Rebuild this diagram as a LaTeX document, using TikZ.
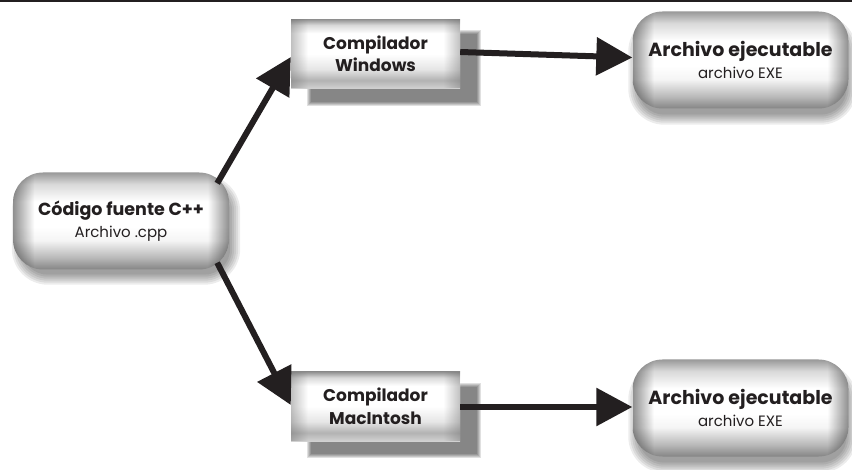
\documentclass[tikz,border=0pt]{standalone}
\usepackage{fontspec}
\setmainfont{Poppins}
\usetikzlibrary{arrows.meta,calc,backgrounds,fadings}
\definecolor{ink}{HTML}{231F20}
\pgfdeclareverticalshading{pillsh}{100bp}{color(0bp)=(black!48); color(25bp)=(black!48); color(31bp)=(black!28); color(40bp)=(black!4); color(47bp)=(white); color(60bp)=(white); color(69bp)=(black!15); color(75bp)=(black!40); color(100bp)=(black!40)}
\pgfdeclareverticalshading{boxsh}{100bp}{color(0bp)=(black!18); color(25bp)=(black!18); color(28bp)=(black!24); color(31bp)=(black!30); color(39bp)=(black!10); color(50bp)=(white); color(65bp)=(white); color(71bp)=(black!15); color(75bp)=(black!42); color(100bp)=(black!42)}
\pgfdeclarehorizontalshading{sidesh}{100bp}{color(0bp)=(pgftransparent!55); color(25bp)=(pgftransparent!55); color(30bp)=(pgftransparent!100); color(70bp)=(pgftransparent!100); color(75bp)=(pgftransparent!55); color(100bp)=(pgftransparent!55)}
\pgfdeclarefading{sides}{\pgfuseshading{sidesh}}
\newcommand{\myhead}[2]{{\fontsize{#1}{24}\selectfont\bfseries #2}}
\newcommand{\mysub}[1]{{\fontsize{15}{24}\selectfont #1}}
\tikzset{
  txt/.style={align=center, inner sep=0pt, text=ink, font=\fontsize{17}{22.5}\selectfont},
  edges/.style={postaction={fill=#1, path fading=sides, fit fading=true}},
  pill/.style={txt, rounded corners=30pt, minimum width=216pt, minimum height=97pt, shading=pillsh, edges=black},
  cbox/.style={txt, rectangle, minimum width=169pt, minimum height=69pt, shading=boxsh, edges=black!55},
  arr/.style={draw=ink, line width=6pt, -{Triangle[length=36pt,width=37pt]}},
  shd/.style={fill=black, opacity=0.075},
  rshd/.style={fill=black, opacity=0.12}
}
\begin{document}
\begin{tikzpicture}[x=1pt,y=-1pt]
\useasboundingbox (0,0) rectangle (852,470);
\fill[ink] (0,0) rectangle (852,2.5);

\node[pill] (cod) at (121,221) {\myhead{17.5}{Código fuente C++}\\\mysub{Archivo .cpp}};
\node[cbox] (win) at (375.5,54) {\textbf{Compilador}\\\textbf{Windows}};
\node[cbox] (mac) at (375.5,406.5) {\textbf{Compilador}\\\textbf{MacIntosh}};
\node[pill] (exe1) at (740.5,60) {\myhead{19}{Archivo ejecutable}\\\mysub{archivo EXE}};
\node[pill] (exe2) at (740.5,408) {\myhead{19}{Archivo ejecutable}\\\mysub{archivo EXE}};

\begin{scope}[on background layer]
  \foreach \n/\dx/\dy in {cod/5/9, exe1/2/10, exe2/2/10} {
    \foreach \k in {-4,-2,0,2,4,6} {
      \fill[shd, rounded corners=30+\k]
        ($(\n.north west)+(\dx-\k,\dy-\k)$) rectangle ($(\n.south east)+(\dx+\k,\dy+\k)$);
    }
  }
  \foreach \n in {win, mac} {
    \foreach \k in {-2,-1,0,1,2} {
      \fill[rshd]
        ($(\n.north west)+(18-\k,13-\k)$) rectangle ($(\n.south east)+(19+\k,15+\k)$);
    }
  }
\end{scope}

\draw[arr] ($(cod.north east)+(-12,11)$) -- ($(win.west)+(0,3)$);
\draw[arr] ($(cod.south east)+(-12,-7)$) -- ($(mac.west)+(0,-1.5)$);
\draw[arr] ($(win.east)+(0,-2)$) -- ($(exe1.west)+(0,-2.5)$);
\draw[arr] ($(mac.east)+(0,0.5)$) -- ($(exe2.west)+(0,-1)$);
\end{tikzpicture}
\end{document}
